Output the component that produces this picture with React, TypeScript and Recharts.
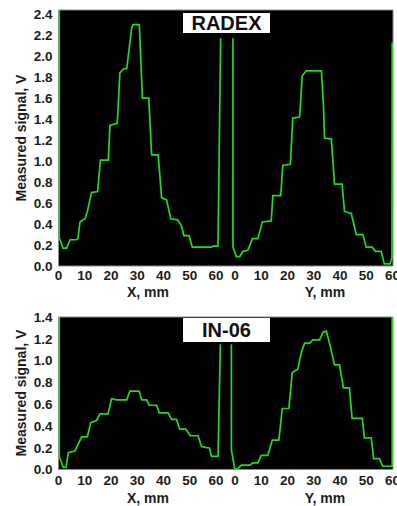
import React from 'react';
import { LineChart, Line, XAxis, YAxis, ReferenceArea } from 'recharts';

// Tick labels for the two halves of the shared horizontal axis
const X_TICK_LABELS = [0, 10, 20, 30, 40, 50, 60];
const Y_TICK_LABELS = [0, 10, 20, 30, 40, 50, 60];
const Y_OFFSET = 67.3; // Y-scan is drawn after the X-scan on the same axis
const AXIS_MAX = 127.5;

const RADEX_TICKS = [0, 0.2, 0.4, 0.6, 0.8, 1.0, 1.2, 1.4, 1.6, 1.8, 2.0, 2.2, 2.4];
const IN06_TICKS = [0, 0.2, 0.4, 0.6, 0.8, 1.0, 1.2, 1.4];

// RADEX, X scan
const RADEX_X_MM = [0.3, 0.3, 1.7, 3.1, 4.4, 6.7, 7.4, 8.2, 10.1, 11.0, 12.6, 14.9, 16.0, 19.0, 19.6, 22.4, 23.4, 24.9, 26.0, 27.9, 28.5, 30.8, 32.0, 34.4, 35.5, 38.0, 39.3, 41.2, 42.8, 45.4, 46.9, 47.8, 49.8, 51.0, 58.3, 58.9, 60.8, 61.8];
const RADEX_X_V = [2.44, 0.27, 0.17, 0.17, 0.25, 0.25, 0.26, 0.42, 0.45, 0.52, 0.70, 0.71, 1.01, 1.01, 1.34, 1.36, 1.84, 1.88, 1.88, 2.27, 2.30, 2.30, 1.60, 1.60, 1.06, 1.06, 0.65, 0.63, 0.45, 0.44, 0.38, 0.29, 0.29, 0.18, 0.18, 0.19, 0.19, 2.17];

// RADEX, Y scan
const RADEX_Y_MM = [-0.8, -0.8, 0.5, 1.8, 3.0, 4.9, 6.6, 8.7, 10.4, 13.8, 14.4, 17.4, 18.2, 21.1, 22.0, 24.6, 25.6, 27.1, 32.9, 33.7, 34.1, 36.7, 37.9, 40.8, 41.7, 44.3, 46.2, 48.7, 50.0, 52.3, 53.5, 55.7, 56.9, 59.1, 59.8, 59.9];
const RADEX_Y_V = [2.17, 0.18, 0.09, 0.09, 0.14, 0.15, 0.26, 0.26, 0.42, 0.43, 0.67, 0.67, 0.96, 0.97, 1.41, 1.42, 1.81, 1.86, 1.86, 1.52, 1.22, 1.21, 0.78, 0.78, 0.52, 0.50, 0.30, 0.30, 0.18, 0.18, 0.14, 0.14, 0.02, 0.02, 0.08, 2.13];

// IN-06, X scan
const IN06_X_MM = [0.3, 0.3, 1.8, 2.9, 3.7, 6.3, 8.8, 11.0, 12.3, 14.5, 15.8, 18.9, 20.2, 22.1, 26.0, 27.2, 30.7, 31.7, 33.6, 34.6, 37.4, 38.4, 41.8, 43.1, 45.0, 46.2, 48.5, 50.3, 53.2, 54.5, 57.6, 58.3, 60.8, 61.7];
const IN06_X_V = [1.4, 0.12, 0.02, 0.02, 0.155, 0.17, 0.30, 0.30, 0.43, 0.45, 0.51, 0.51, 0.65, 0.64, 0.64, 0.72, 0.72, 0.64, 0.64, 0.59, 0.59, 0.52, 0.52, 0.46, 0.46, 0.37, 0.37, 0.31, 0.31, 0.21, 0.195, 0.12, 0.12, 1.15];

// IN-06, Y scan
const IN06_Y_MM = [-1.4, -1.4, -0.1, 1.1, 2.4, 5.6, 6.8, 8.7, 10.0, 12.5, 14.2, 16.7, 18.0, 20.5, 21.8, 23.9, 25.2, 26.5, 28.4, 29.7, 32.2, 33.5, 34.8, 36.0, 37.9, 39.8, 41.3, 43.6, 44.6, 48.5, 49.3, 51.9, 52.8, 55.0, 56.3, 59.9, 59.9];
const IN06_Y_V = [1.15, 0.18, 0.0, 0.01, 0.04, 0.04, 0.06, 0.06, 0.13, 0.13, 0.27, 0.27, 0.56, 0.56, 0.89, 0.92, 1.07, 1.16, 1.16, 1.19, 1.19, 1.26, 1.27, 1.16, 0.96, 0.96, 0.75, 0.75, 0.47, 0.47, 0.29, 0.29, 0.10, 0.10, 0.03, 0.03, 1.4];

const toPoints = (mm: number[], v: number[], off = 0) => mm.map((m, i) => ({ u: m + off, v: v[i] }));

const AXIS_TICKS = [...X_TICK_LABELS, ...Y_TICK_LABELS.map((t) => t + Y_OFFSET)];
const fmtX = (val: number) => {
  if (val < Y_OFFSET - 1) return String(Math.round(val));
  return String(Math.round(val - Y_OFFSET));
};

const FONT = '"Liberation Sans", Arial, Helvetica, sans-serif';
const GREEN = '#1fdc1f';
const TEXT = '#1c1c1c';
const tickStyle = { fontSize: 13.5, fontWeight: 700, fill: TEXT, fontFamily: FONT };

type PanelProps = {
  top: number;
  height: number;
  marginTop: number;
  marginBottom: number;
  yMax: number;
  yTicks: number[];
  xData: { u: number; v: number }[];
  yData: { u: number; v: number }[];
  xTickMargin: number;
};

function Panel(p: PanelProps) {
  return (
    <div style={{ position: 'absolute', left: 0, top: p.top }}>
      <LineChart
        width={397}
        height={p.height}
        margin={{ top: p.marginTop, right: 4, left: 8.5, bottom: p.marginBottom }}
      >
        <XAxis
          type="number"
          dataKey="u"
          domain={[0, AXIS_MAX]}
          ticks={AXIS_TICKS}
          interval={0}
          tickFormatter={fmtX}
          axisLine={false}
          tickLine={false}
          tickSize={2}
          tickMargin={p.xTickMargin}
          height={20}
          tick={tickStyle}
          allowDataOverflow
        />
        <YAxis
          type="number"
          dataKey="v"
          domain={[0, p.yMax]}
          ticks={p.yTicks}
          interval={0}
          tickFormatter={(v: number) => v.toFixed(1)}
          axisLine={false}
          tickLine={false}
          tickSize={4}
          tickMargin={2}
          width={50}
          tick={tickStyle}
          allowDataOverflow
        />
        <ReferenceArea
          x1={0}
          x2={AXIS_MAX}
          y1={0}
          y2={p.yMax}
          fill="#000"
          fillOpacity={1}
          stroke="#8a8a8a"
          strokeWidth={1}
        />
        <Line
          data={p.xData}
          dataKey="v"
          type="linear"
          stroke={GREEN}
          strokeWidth={1.7}
          dot={false}
          isAnimationActive={false}
        />
        <Line
          data={p.yData}
          dataKey="v"
          type="linear"
          stroke={GREEN}
          strokeWidth={1.7}
          dot={false}
          isAnimationActive={false}
        />
      </LineChart>
    </div>
  );
}

const titleStyle = (left: number, top: number, w: number, h: number): React.CSSProperties => ({
  position: 'absolute',
  left,
  top,
  width: w,
  height: h,
  background: '#fff',
  color: '#111',
  fontFamily: FONT,
  fontWeight: 700,
  fontSize: 20,
  lineHeight: `${h}px`,
  textAlign: 'center',
});

const axisTitle = (cx: number, cy: number): React.CSSProperties => ({
  position: 'absolute',
  left: cx - 50,
  top: cy - 8,
  width: 100,
  height: 16,
  lineHeight: '16px',
  textAlign: 'center',
  fontFamily: FONT,
  fontWeight: 700,
  fontSize: 14,
  color: TEXT,
  whiteSpace: 'nowrap',
});

const yTitle = (cx: number, cy: number): React.CSSProperties => ({
  position: 'absolute',
  left: cx - 100,
  top: cy - 8,
  width: 200,
  height: 16,
  lineHeight: '16px',
  textAlign: 'center',
  fontFamily: FONT,
  fontWeight: 700,
  fontSize: 14,
  color: TEXT,
  whiteSpace: 'nowrap',
  transform: 'rotate(-90deg)',
});

export default function App() {
  return (
    <div style={{ position: 'absolute', left: 0, top: 0, width: 397, height: 506, background: '#fff', overflow: 'hidden' }}>
      <Panel
        top={0}
        height={300}
        marginTop={10}
        marginBottom={14}
        yMax={2.44}
        yTicks={RADEX_TICKS}
        xData={toPoints(RADEX_X_MM, RADEX_X_V)}
        yData={toPoints(RADEX_Y_MM, RADEX_Y_V, Y_OFFSET)}
        xTickMargin={2}
      />
      <Panel
        top={300}
        height={206}
        marginTop={17}
        marginBottom={16.5}
        yMax={1.4}
        yTicks={IN06_TICKS}
        xData={toPoints(IN06_X_MM, IN06_X_V)}
        yData={toPoints(IN06_Y_MM, IN06_Y_V, Y_OFFSET)}
        xTickMargin={4}
      />
      <div style={titleStyle(183, 13, 87, 20)}>RADEX</div>
      <div style={titleStyle(183, 318, 87, 24)}>IN-06</div>
      <div style={axisTitle(148, 292)}>X, mm</div>
      <div style={axisTitle(325, 292)}>Y, mm</div>
      <div style={axisTitle(148, 497.5)}>X, mm</div>
      <div style={axisTitle(325, 497.5)}>Y, mm</div>
      <div style={yTitle(21, 138)}>Measured signal, V</div>
      <div style={yTitle(21, 393)}>Measured signal, V</div>
    </div>
  );
}
